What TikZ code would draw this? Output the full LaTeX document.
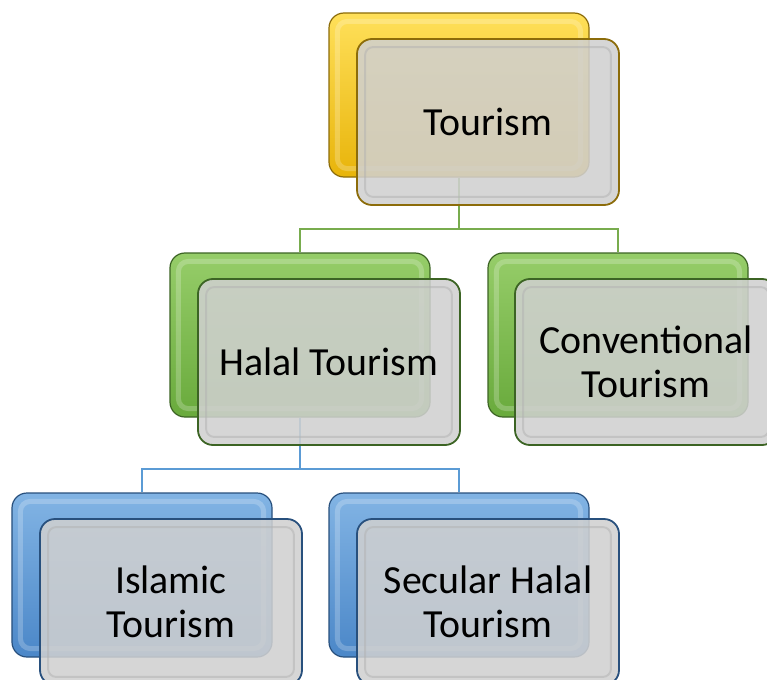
\documentclass[tikz,border=0pt]{standalone}
\usepackage{fontspec}
\setmainfont{Carlito}
\definecolor{goldtop}{RGB}{255,224,90}
\definecolor{goldbot}{RGB}{232,180,10}
\definecolor{goldline}{RGB}{140,108,10}
\definecolor{leaftop}{RGB}{150,205,105}
\definecolor{leafbot}{RGB}{105,170,60}
\definecolor{leafline}{RGB}{60,100,36}
\definecolor{skytop}{RGB}{130,180,228}
\definecolor{skybot}{RGB}{75,135,200}
\definecolor{skyline}{RGB}{40,80,125}
\definecolor{panel}{RGB}{208,208,208}
\definecolor{greenlink}{RGB}{120,172,78}
\definecolor{bluelink}{RGB}{91,155,213}
\begin{document}
\begin{tikzpicture}[x=1bp, y=-1bp,
    back/.style n args={3}{draw=#3, line width=1.2bp, rounded corners=15bp,
                minimum width=260bp, minimum height=164bp, inner sep=0pt,
                top color=#1, bottom color=#2},
    front/.style={draw=#1, line width=1.8bp, rounded corners=15bp,
                minimum width=262bp, minimum height=166bp, inner sep=0pt,
                fill=panel, fill opacity=0.87, text opacity=1,
                font=\fontsize{40}{44}\selectfont, align=center},
    link/.style={draw=#1, line width=2bp},
  ]
    \useasboundingbox (0,0) rectangle (767,680);
    \clip (0,0) rectangle (767,680);

    % back panels
    \node[back={goldtop}{goldbot}{goldline}]  (tourB)  at (459,95)  {};
    \node[back={leaftop}{leafbot}{leafline}]  (halalB) at (300,335) {};
    \node[back={leaftop}{leafbot}{leafline}]  (convB)  at (618,335) {};
    \node[back={skytop}{skybot}{skyline}]     (islB)   at (142,575) {};
    \node[back={skytop}{skybot}{skyline}]     (secB)   at (459,575) {};

    % bevel on back panels
    \foreach \n in {tourB, halalB, convB, islB, secB}
      \draw[white, opacity=0.22, line width=5bp, rounded corners=10bp]
        ([shift={(9,9)}]\n.north west) rectangle ([shift={(-9,-9)}]\n.south east);

    % Links
    \draw[link=greenlink] (tourB.south) -- ++(0,51) -| (halalB.north);
    \draw[link=greenlink] (tourB.south) -- ++(0,51) -| (convB.north);
    \draw[link=bluelink] (halalB.south) -- ++(0,51) -| (islB.north);
    \draw[link=bluelink] (halalB.south) -- ++(0,51) -| (secB.north);

    % front panels
    \node[front=goldline] (tour)  at (488,122) {Tourism};
    \node[front=leafline] (halal) at (329,362) {Halal Tourism};
    \node[front=leafline] (conv)  at (646,362) {Conventional\\Tourism};
    \node[front=skyline]  (isl)   at (171,602) {Islamic\\Tourism};
    \node[front=skyline]  (sec)   at (488,602) {Secular Halal\\Tourism};

    % bevel on front panels
    \foreach \n in {tour, halal, conv, isl, sec}
      \draw[gray!60, opacity=0.5, line width=2bp, rounded corners=8bp]
        ([shift={(9,9)}]\n.north west) rectangle ([shift={(-9,-9)}]\n.south east);
  \end{tikzpicture}
\end{document}
